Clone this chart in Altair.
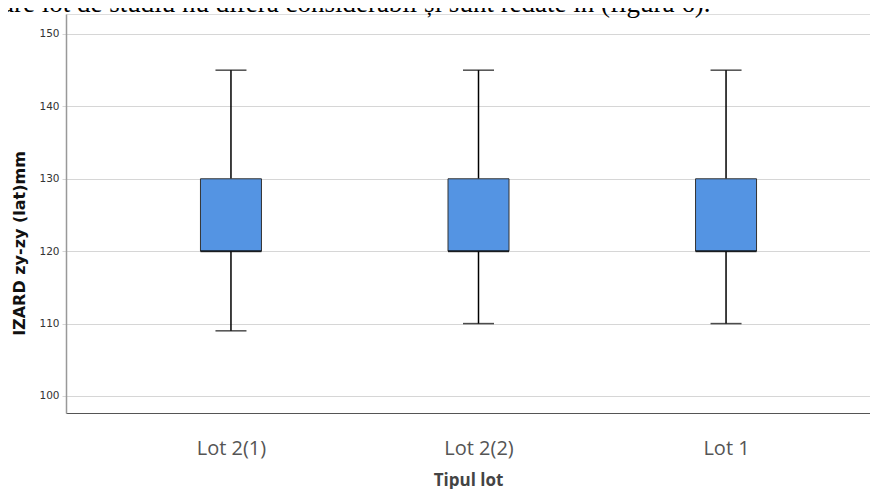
import altair as alt
import pandas as pd

categories = ["Lot 2(1)", "Lot 2(2)", "Lot 1"]
mins = [109, 110, 110]
q1s = [120, 120, 120]
medians = [120, 120, 120]
q3s = [130, 130, 130]
maxs = [145, 145, 145]
y_ticks = [100, 110, 120, 130, 140, 150]
caption = "are lot de studiu nu diferă considerabil și sunt redate în (figura 6)."

df = pd.DataFrame({
    "cat": categories, "lo": mins, "q1": q1s, "med": medians, "q3": q3s, "hi": maxs
})

xscale = alt.Scale(type="point", domain=categories, padding=0.624, align=0.534)
yscale = alt.Scale(domain=[97.65, 152.76], nice=False, zero=False)

x_enc = alt.X("cat:N", scale=xscale, sort=categories,
              axis=alt.Axis(title="Tipul lot", ticks=False, grid=False,
                            labelAngle=0, labelFont="Open Sans", labelFontSize=20,
                            labelColor="#555555", labelPadding=25,
                            domainColor="#555555", domainWidth=1.2,
                            titleFont="Open Sans", titleFontSize=17, titleFontWeight="bold",
                            titleColor="#444444", titlePadding=14))
y_axis = alt.Axis(title="IZARD zy-zy (lat)mm", values=y_ticks, grid=True,
                  gridColor="#d6d6d6", gridWidth=1.2,
                  tickColor="#d6d6d6", tickSize=4, labelPadding=3,
                  labelFont="DejaVu Sans", labelFontSize=10.5, labelColor="#333333",
                  domainColor="#999999", domainWidth=1.5,
                  titleFont="DejaVu Sans", titleFontSize=16, titleFontWeight="bold",
                  titleColor="#111111", titleX=-47, titleY=229, titleBaseline="middle")

base = alt.Chart(df)

whisk_lo = base.mark_rule(color="black", strokeWidth=1.5).encode(
    x=x_enc, y=alt.Y("lo:Q", scale=yscale, axis=y_axis), y2="q1:Q")
whisk_hi = base.mark_rule(color="black", strokeWidth=1.5).encode(
    x="cat:N", y="q3:Q", y2="hi:Q")
box = base.mark_bar(size=61, fill="#5494e3", stroke="#333333", strokeWidth=1).encode(
    x="cat:N", y="q1:Q", y2="q3:Q")
med = base.mark_tick(size=61, thickness=2, color="black").encode(x="cat:N", y="med:Q")
cap_lo = base.mark_tick(size=31, thickness=1.5, color="black").encode(x="cat:N", y="lo:Q")
cap_hi = base.mark_tick(size=31, thickness=1.5, color="black").encode(x="cat:N", y="hi:Q")

cap_text = alt.Chart(pd.DataFrame({"t": [caption]})).mark_text(
    font="Liberation Serif", fontSize=27, align="left", baseline="alphabetic",
    color="black").encode(x=alt.value(-64), y=alt.value(-2), text="t:N")

chart = alt.layer(whisk_lo, whisk_hi, box, med, cap_lo, cap_hi, cap_text).properties(
    width=804, height=399,
    autosize=alt.AutoSizeParams(type="none"),
    padding={"left": 58, "top": 6, "right": 0, "bottom": 76},
).configure_view(stroke=None).configure(background="white")

chart.save("out.html", embed_options={"renderer": "svg", "actions": False})
